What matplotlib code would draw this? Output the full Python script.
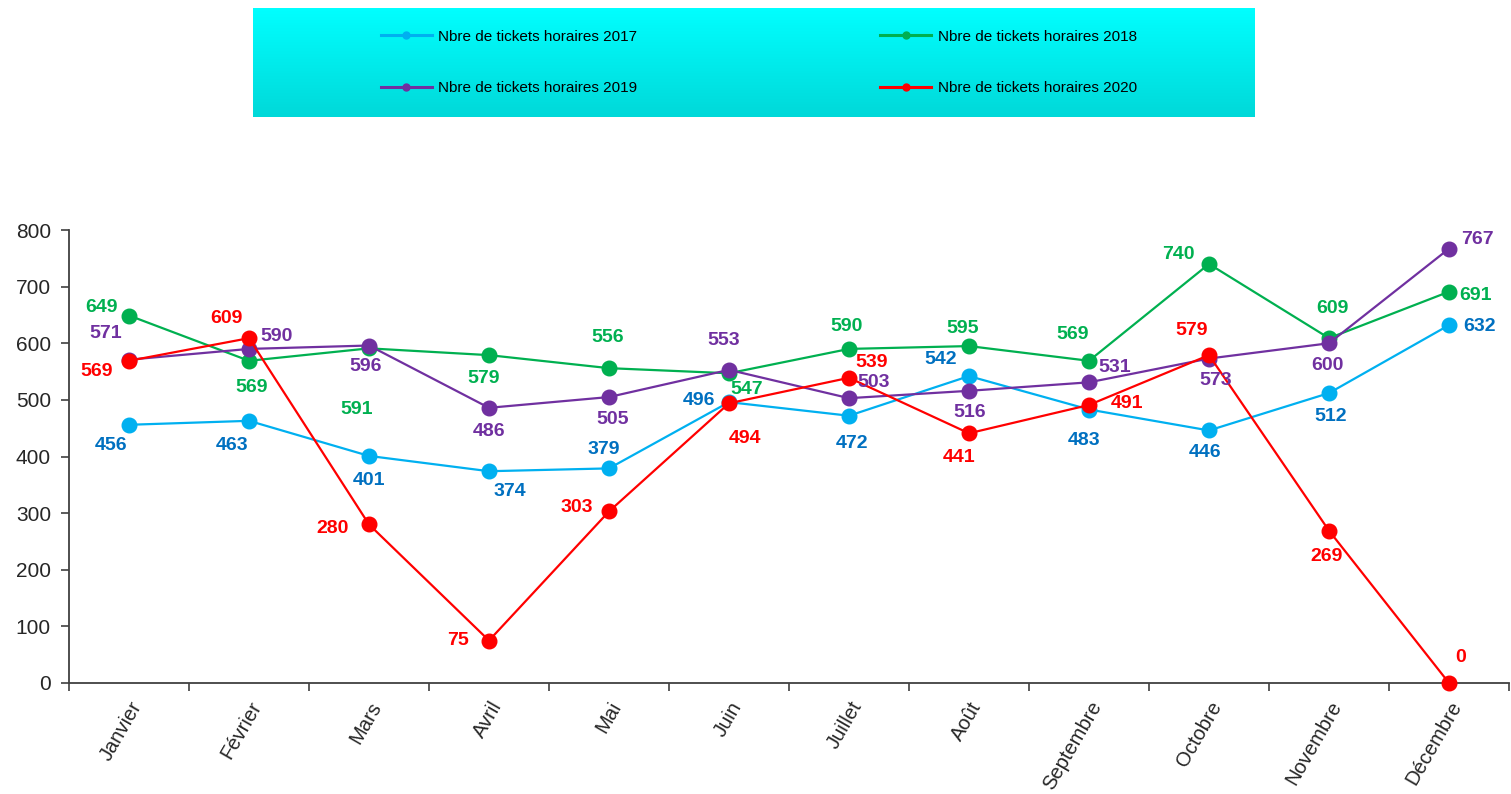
import numpy as np
import matplotlib
matplotlib.use("Agg")
import matplotlib.pyplot as plt
from matplotlib.lines import Line2D

plt.rcParams['font.family'] = ['Liberation Sans', 'DejaVu Sans']

mois = ["Janvier", "Février", "Mars", "Avril", "Mai", "Juin", "Juillet",
        "Août", "Septembre", "Octobre", "Novembre", "Décembre"]

tickets_2017 = [456, 463, 401, 374, 379, 496, 472, 542, 483, 446, 512, 632]
tickets_2018 = [649, 569, 591, 579, 556, 547, 590, 595, 569, 740, 609, 691]
tickets_2019 = [571, 590, 596, 486, 505, 553, 503, 516, 531, 573, 600, 767]
tickets_2020 = [569, 609, 280, 75, 303, 494, 539, 441, 491, 579, 269, 0]

labels = ["Nbre de tickets horaires 2017", "Nbre de tickets horaires 2018",
          "Nbre de tickets horaires 2019", "Nbre de tickets horaires 2020"]

# label offsets in pixels (dx right, dy down)
off_2017 = [(-18, 21), (-17, 25), (0, 25), (21, 20), (-5, -19), (-30, -2),
            (3, 28), (-28, -17), (-5, 31), (-4, 22), (2, 23), (31, 1)]
off_2018 = [(-28, -8), (3, 27), (-12, 61), (-5, 23), (-1, -31), (18, 16),
            (-2, -22), (-6, -18), (-16, -26), (-31, -9), (3, -30), (27, 4)]
off_2019 = [(-23, -26), (28, -12), (-3, 21), (0, 24), (4, 22), (-5, -29),
            (25, -16), (1, 22), (26, -15), (7, 22), (-2, 22), (28, -9)]
off_2020 = [(-32, 11), (-23, -20), (-36, 4), (-31, 0), (-32, -4), (16, 35),
            (23, -15), (-10, 24), (38, -1), (-17, -25), (-2, 26), (12, -26)]

series = [
    (tickets_2017, "#00B0F0", "#0070C0", off_2017),
    (tickets_2018, "#00B050", "#00B050", off_2018),
    (tickets_2019, "#7030A0", "#7030A0", off_2019),
    (tickets_2020, "#FF0000", "#FF0000", off_2020),
]

fig = plt.figure(figsize=(15.11, 7.94), dpi=100)
ax = fig.add_axes([69 / 1511, 1 - 683 / 794, 1440 / 1511, 453 / 794])

x = np.arange(len(mois))
for vals, col, lab_col, offs in series:
    ax.plot(x, vals, color=col, lw=1.6, marker="o", ms=10.5, clip_on=False, zorder=3)
    for xi, v, (dx, dy) in zip(x, vals, offs):
        ax.annotate(str(v), (xi, v), xytext=(dx, -dy), textcoords="offset pixels",
                    ha="center", va="center", color=lab_col, fontsize=14,
                    fontweight="bold", zorder=4)

ax.set_xlim(-0.5, len(mois) - 0.5)
ax.set_ylim(0, 800)
ax.set_yticks(range(0, 801, 100))
ax.tick_params(axis="y", labelsize=15, length=6, width=1.2, color="#404040",
               labelcolor="#262626", pad=7)
ax.set_xticks(np.arange(-0.5, len(mois), 1.0))
ax.set_xticklabels([])
ax.tick_params(axis="x", which="major", length=6, width=1.2, color="#404040")
ax.set_xticks(x, minor=True)
ax.set_xticklabels(mois, minor=True, rotation=60, ha="right", va="top",
                   rotation_mode="anchor", fontsize=14.5, color="#262626")
ax.tick_params(axis="x", which="minor", length=0, pad=11)
for s in ["top", "right"]:
    ax.spines[s].set_visible(False)
for s in ["left", "bottom"]:
    ax.spines[s].set_color("#404040")
    ax.spines[s].set_linewidth(1.3)

# legend box with cyan gradient
lax = fig.add_axes([253 / 1511, 1 - 117 / 794, 1002 / 1511, 109 / 794])
grad = np.linspace(0, 1, 100).reshape(-1, 1)
top = np.array([0.0, 1.0, 1.0])
bot = np.array([0.0, 0.85, 0.85])
img = top + grad[..., None] * (bot - top)
lax.imshow(img, aspect="auto", extent=[0, 1, 0, 1])
lax.set_xlim(0, 1)
lax.set_ylim(0, 1)
lax.axis("off")

handles = [Line2D([], [], color=c, lw=2.2, marker="o", ms=5) for _, c, _, _ in series]
order = [0, 2, 1, 3]
lax.legend([handles[i] for i in order], [labels[i] for i in order], ncol=2,
           loc="center", bbox_to_anchor=(0.505, 0.5), frameon=False, fontsize=11,
           handlelength=3.3, handletextpad=0.45, columnspacing=15.9,
           labelspacing=2.45)

fig.savefig("out.png", dpi=100)
